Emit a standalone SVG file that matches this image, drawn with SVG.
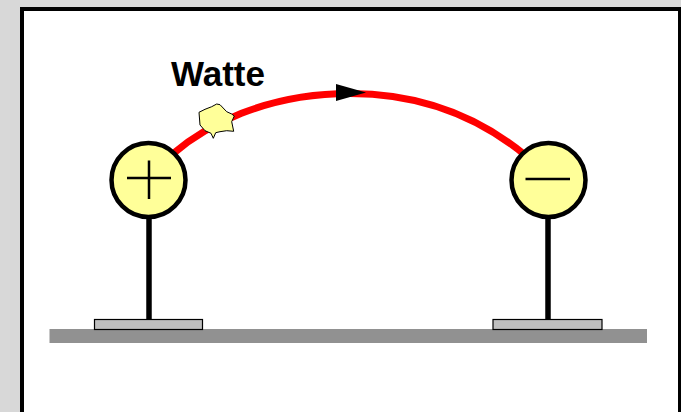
<svg xmlns="http://www.w3.org/2000/svg" width="681" height="412" viewBox="0 0 681 412">
<style>
.term{fill:#ffff99;stroke:#000;stroke-width:4.500}
.sign{stroke:#000;stroke-width:2.500;fill:none}
.post{stroke:#000;stroke-width:5.500;fill:none}
.base{fill:#bfbfbf;stroke:#000;stroke-width:1.200}
.ground{fill:#919191}
.arc{fill:none;stroke:#f00;stroke-width:7}
</style>
<rect width="681" height="412" fill="#d8d8d8"/>
<rect x="22" y="9" width="658" height="420" fill="#fff" stroke="#000" stroke-width="4"/>
<rect id="ground" class="ground" x="49.500" y="329" width="597.500" height="14"/>
<g id="connectors">
<path class="arc" d="M172 154.500C205 126 265 93.500 350 93.500Q450 93.500 525 155"/>
<polygon points="336,84 366,92.500 336,101" fill="#000"/>
</g>
<g id="plus">
<line class="post" x1="149" y1="218" x2="149" y2="320"/>
<rect class="base" x="94.500" y="319.500" width="108" height="10"/>
<circle class="term" cx="148.500" cy="180" r="37"/>
<path class="sign" d="M127 178H171M149 160.500V199"/>
</g>
<g id="minus">
<line class="post" x1="548" y1="218" x2="548" y2="320"/>
<rect class="base" x="493" y="319.500" width="109" height="10"/>
<circle class="term" cx="548.500" cy="180" r="37"/>
<path class="sign" d="M525.500 179H570"/>
</g>
<g id="watte">
<polygon points="199,112.300 205,109.300 211.700,106.700 216.700,104 220,104.700 226.700,111.700 231.700,114 234.300,116 231.700,121.700 233.700,131.300 226.700,130.700 220,131.700 215.700,132.700 213.300,138.300 211,133.300 205,130.700 200,125" fill="#ffff99" stroke="#000" stroke-width="1" stroke-linejoin="round"/>
<text x="171" y="85.500" font-family="'Liberation Sans',Arial,sans-serif" font-weight="bold" font-size="35" fill="#000">Watte</text>
</g>
</svg>
